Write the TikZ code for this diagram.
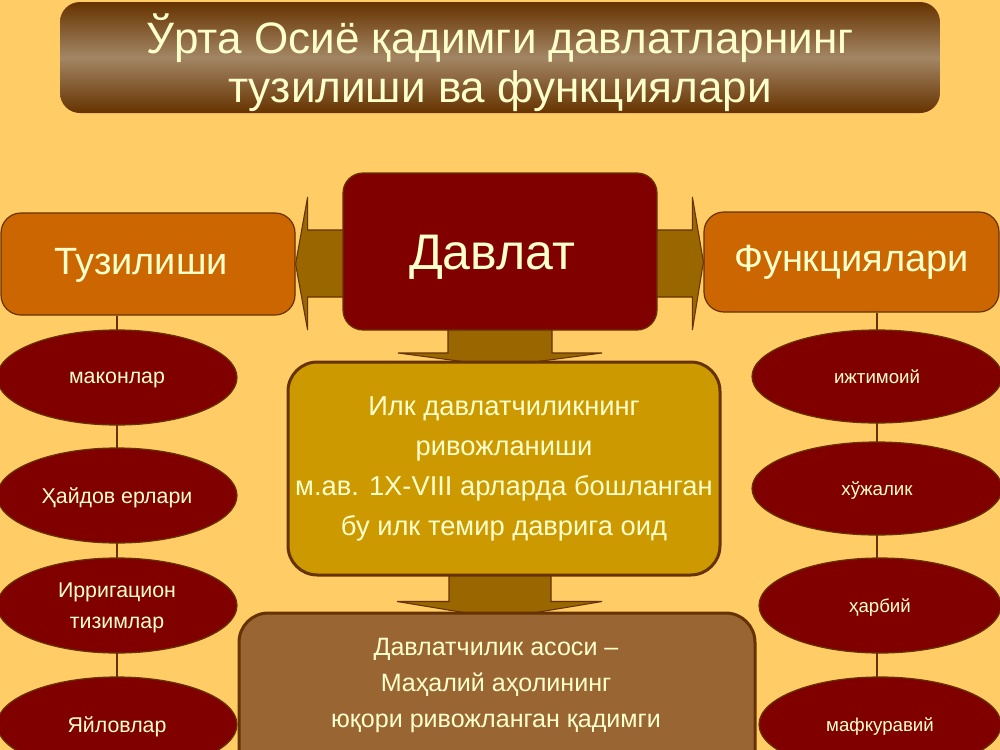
\documentclass[tikz,border=0pt]{standalone}
\usepackage{fontspec}
\setmainfont{Liberation Sans}
\usetikzlibrary{shapes.geometric,calc,backgrounds}
\definecolor{bgc}{HTML}{FFCC66}
\definecolor{cream}{HTML}{FFFFCC}
\definecolor{maroon}{HTML}{800000}
\definecolor{dbrown}{HTML}{663300}
\definecolor{orng}{HTML}{CC6600}
\definecolor{gold}{HTML}{CC9900}
\definecolor{brownbox}{HTML}{996633}
\definecolor{arrowc}{HTML}{996600}
\definecolor{titledark}{HTML}{663300}
\definecolor{titlemid}{HTML}{A38665}
\tikzset{
  rbox/.style={draw=dbrown, line width=0.9pt, rounded corners=15pt, inner sep=0pt, text=cream},
  ell/.style={ellipse, fill=maroon, draw=dbrown, line width=0.9pt, inner sep=0pt, text=cream, align=center, text depth=0pt},
  lt/.style={text=cream, inner sep=0pt, align=center},
  conn/.style={draw=dbrown, line width=1.5pt},
  barrow/.style={fill=arrowc, draw=dbrown, line width=0.8pt, line join=miter},
}
\begin{document}
\begin{tikzpicture}[x=0.75pt,y=-0.75pt]
\useasboundingbox (0,0) rectangle (1000,750);
% title
\node[rounded corners=15pt, top color=titledark, bottom color=titledark, middle color=titlemid,
      minimum width=660pt, minimum height=83.25pt, inner sep=0pt] (title) at (500,57.5) {};
\node[lt, font=\fontsize{33}{36.5}\selectfont] (titletext) at (500,63)
      {Ўрта Осиё қадимги давлатларнинг\\тузилиши ва функциялари};
% main boxes
\node[rbox, fill=maroon, minimum width=235.5pt, minimum height=117.75pt] (davlat) at (500,251.5) {};
\node[lt, font=\fontsize{37.5}{40}\selectfont] (davlattext) at (492,257) {Давлат};
\node[rbox, fill=orng, minimum width=220.5pt, minimum height=76.5pt] (tuz) at (148,264) {};
\node[lt, font=\fontsize{28.5}{32}\selectfont] (tuztext) at (141,265) {Тузилиши};
\node[rbox, fill=orng, minimum width=221.25pt, minimum height=75pt,
      font=\fontsize{28.5}{32}\selectfont] (funk) at (851.5,262) {Функциялари};
\node[rbox, fill=gold, line width=2.25pt, rounded corners=22pt, minimum width=324pt,
      minimum height=159.75pt, align=center, font=\fontsize{20.5}{30}\selectfont] (ilk) at (504,468.5)
      {Илк давлатчиликнинг\\ривожланиши\\м.ав. 1Х-VIII арларда бошланган\\бу илк темир даврига оид};
\node[rbox, fill=brownbox, line width=2.25pt, rounded corners=22pt, minimum width=387pt,
      minimum height=140.25pt] (asos) at (497,706.5) {};
\node[lt, font=\fontsize{18.8}{27}\selectfont] (asostext) at (496,685)
      {Давлатчилик асоси –\\Маҳалий аҳолининг\\юқори ривожланган қадимги};
% left ellipses
\node[ell, minimum width=180pt, minimum height=71.25pt, font=\fontsize{16}{23}\selectfont] (l1) at (117,377.5) {маконлар};
\node[ell, minimum width=180pt, minimum height=71.25pt, font=\fontsize{16}{23}\selectfont] (l2) at (117,495.5) {Ҳайдов ерлари};
\node[ell, minimum width=180pt, minimum height=71.25pt, font=\fontsize{16}{23}\selectfont] (l3) at (117,605.5) {Ирригацион\\тизимлар};
\node[ell, minimum width=180pt, minimum height=71.25pt, font=\fontsize{16}{23}\selectfont] (l4) at (117,724.5) {Яйловлар};
% right ellipses
\node[ell, minimum width=187.5pt, minimum height=69.75pt, font=\fontsize{14}{20}\selectfont] (r1) at (877,376.5) {ижтимоий};
\node[ell, minimum width=187.5pt, minimum height=69.75pt, font=\fontsize{14}{20}\selectfont] (r2) at (877,488.5) {хўжалик};
\node[ell, minimum width=181.5pt, minimum height=71.25pt, font=\fontsize{14}{20}\selectfont] (r3) at (880,605.5) {ҳарбий};
\node[ell, minimum width=181.5pt, minimum height=71.25pt, font=\fontsize{14}{20}\selectfont] (r4) at (880,724.5) {мафкуравий};
\begin{pgfonlayer}{background}
\fill[bgc] (0,0) rectangle (1000,750);
% connectors
\draw[conn] (tuz.south -| l1.center) -- (l4.center);
\draw[conn] (funk.south -| r1.center) -- (r1.center |- r4.center);
% block arrows
\draw[barrow] (tuz.east) -- ($(tuz.east)+(12,-67)$) -- ($(tuz.east)+(12,-34)$)
  -- ($(davlat.center)+(0,-21.5)$) -- ($(davlat.center)+(0,45.5)$)
  -- ($(tuz.east)+(12,33)$) -- ($(tuz.east)+(12,66)$) -- cycle;
\draw[barrow] (funk.west) -- ($(funk.west)+(-11,-65)$) -- ($(funk.west)+(-11,-32)$)
  -- ($(davlat.center)+(0,-21.5)$) -- ($(davlat.center)+(0,45.5)$)
  -- ($(funk.west)+(-11,35)$) -- ($(funk.west)+(-11,68)$) -- cycle;
\draw[barrow] ($(davlat.center)+(-52,0)$) -- ($(davlat.center)+(-52,101.5)$)
  -- ($(davlat.center)+(-102,101.5)$) -- ($(ilk.north -| davlat.center)+(0,6)$)
  -- ($(davlat.center)+(102,101.5)$) -- ($(davlat.center)+(52,101.5)$)
  -- ($(davlat.center)+(52,0)$) -- cycle;
\draw[barrow] ($(ilk.south -| davlat.center)+(-51,-20)$) -- ($(asos.north -| davlat.center)+(-51,-10)$)
  -- ($(asos.north -| davlat.center)+(-103,-10)$) -- ($(asos.north -| davlat.center)+(0,7)$)
  -- ($(asos.north -| davlat.center)+(102,-10)$) -- ($(asos.north -| davlat.center)+(51,-10)$)
  -- ($(ilk.south -| davlat.center)+(51,-20)$) -- cycle;
\end{pgfonlayer}
\end{tikzpicture}
\end{document}
